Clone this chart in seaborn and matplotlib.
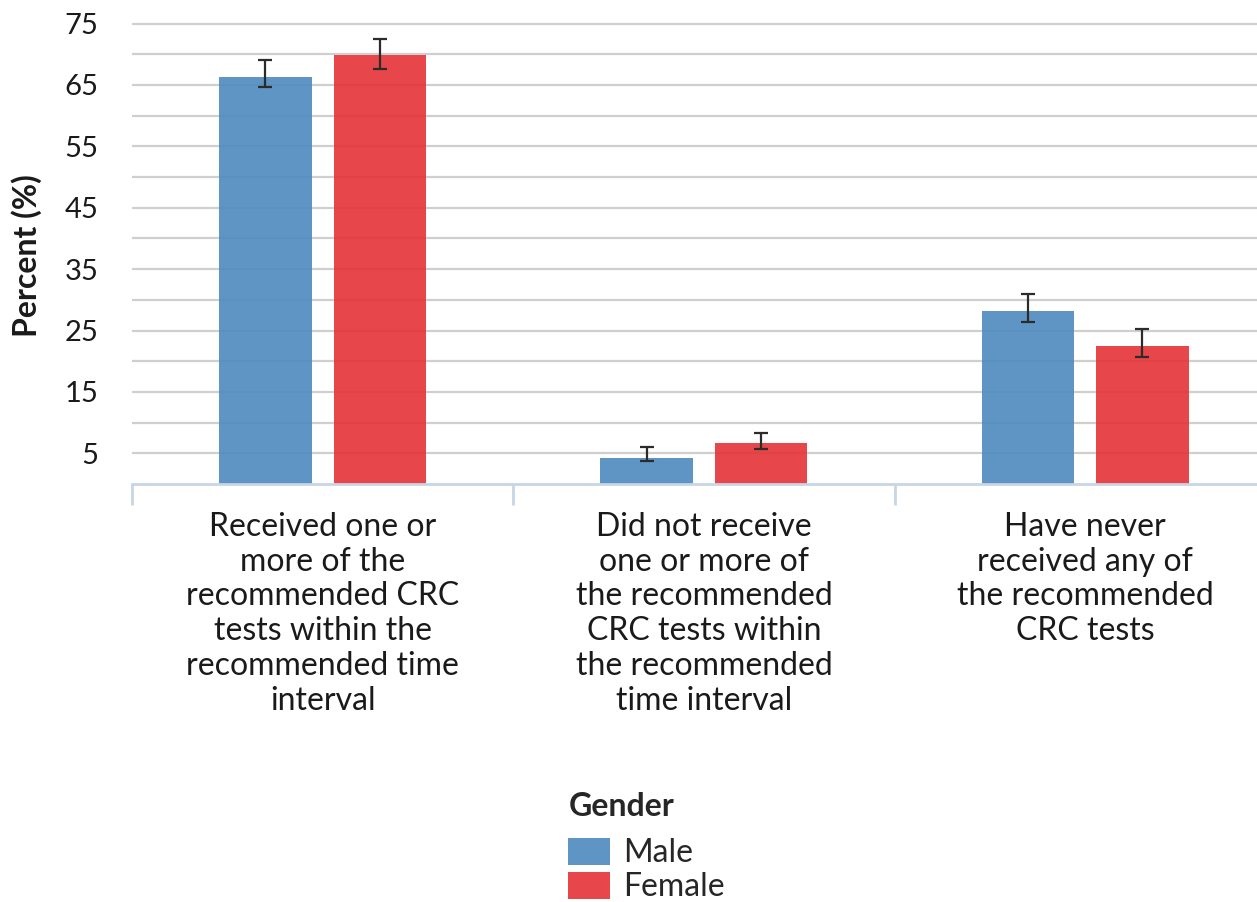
import matplotlib
matplotlib.use("Agg")
import matplotlib.pyplot as plt
import seaborn as sns
import pandas as pd
import numpy as np

# ---- data ----
categories = [
    "Received one or\nmore of the\nrecommended CRC\ntests within the\nrecommended time\ninterval",
    "Did not receive\none or more of\nthe recommended\nCRC tests within\nthe recommended\ntime interval",
    "Have never\nreceived any of\nthe recommended\nCRC tests",
]
genders = ["Male", "Female"]
male_values = [66.3, 4.3, 28.1]
male_lo = [64.7, 3.7, 26.4]
male_hi = [69.0, 6.0, 30.9]
female_values = [69.8, 6.6, 22.4]
female_lo = [67.6, 5.7, 20.7]
female_hi = [72.5, 8.3, 25.3]
y_major_ticks = [5, 15, 25, 35, 45, 55, 65, 75]

colors = {"Male": "#4E8ABE", "Female": "#E53236"}

df = pd.DataFrame({
    "Category": categories * 2,
    "Gender": ["Male"] * 3 + ["Female"] * 3,
    "Percent": male_values + female_values,
    "lo": male_lo + female_lo,
    "hi": male_hi + female_hi,
})

sns.set_style("white")
plt.rcParams["font.family"] = ["Lato", "DejaVu Sans"]

fig = plt.figure(figsize=(12.57, 9.02), dpi=100)
ax = fig.add_axes([132 / 1257, 1 - 484 / 902, 3 * 381.3 / 1257, 466.6 / 902])

sns.barplot(data=df, x="Category", y="Percent", hue="Gender", order=categories,
            hue_order=genders, palette=colors, width=0.6, gap=0.19,
            errorbar=None, alpha=0.9, ax=ax, saturation=1, linewidth=0)

# error bars from bar patches
bars = [p for p in ax.patches if p.get_height() > 0]
for g_i, g in enumerate(genders):
    sub = df[df["Gender"] == g].set_index("Category").loc[categories]
    for c_i in range(len(categories)):
        p = bars[g_i * len(categories) + c_i]
        xc = p.get_x() + p.get_width() / 2
        v = sub["Percent"].iloc[c_i]
        lo = sub["lo"].iloc[c_i]
        hi = sub["hi"].iloc[c_i]
        ax.errorbar(xc, v, yerr=[[v - lo], [hi - v]], fmt="none",
                    ecolor="#2b2b2b", elinewidth=1.6, capsize=5,
                    capthick=1.6, zorder=5)

ax.set_ylim(0, 76)
ax.set_xlim(-0.5, 2.5)
ax.set_yticks(y_major_ticks)
ax.set_yticks([10, 20, 30, 40, 50, 60, 70], minor=True)
ax.grid(True, which="both", axis="y", color="#CFCFCF", linewidth=1.6)
ax.grid(False, axis="x")
ax.set_axisbelow(True)

for s in ["top", "right", "left"]:
    ax.spines[s].set_visible(False)
ax.spines["bottom"].set_color("#C8D5E5")
ax.spines["bottom"].set_linewidth(2)

ax.tick_params(axis="y", which="both", length=0, pad=24, labelsize=21,
               labelcolor="#1a1a1a", left=False)
ax.set_xticks([-0.5, 0.5, 1.5, 2.5], minor=True)
ax.tick_params(axis="x", which="minor", bottom=True, length=15, width=2,
               color="#C8D5E5")
ax.tick_params(axis="x", which="major", bottom=True, length=0, pad=20,
               labelsize=23, labelcolor="#1a1a1a")
for lab in ax.get_xticklabels():
    lab.set_ha("center")
    lab.set_va("top")
    lab.set_multialignment("center")

ax.set_xlabel("")
ax.set_ylabel("Percent (%)", fontsize=23, fontweight="bold", color="#1a1a1a")
ax.yaxis.set_label_coords((42 - 132) / 1143.9, 0.49)

handles, labels = ax.get_legend_handles_labels()
if ax.get_legend() is not None:
    ax.get_legend().remove()
leg = fig.legend(handles, labels, title="Gender", loc="upper left",
                 bbox_to_anchor=(546 / 1257, 1 - 770 / 902),
                 bbox_transform=fig.transFigure, frameon=False,
                 fontsize=23, title_fontproperties={"weight": "bold", "size": 23},
                 alignment="left", handlelength=1.3, handleheight=0.9,
                 handletextpad=0.4, labelspacing=0.12, borderpad=0.2)
leg._legend_box.sep = 12

fig.savefig("out.png", dpi=100)
